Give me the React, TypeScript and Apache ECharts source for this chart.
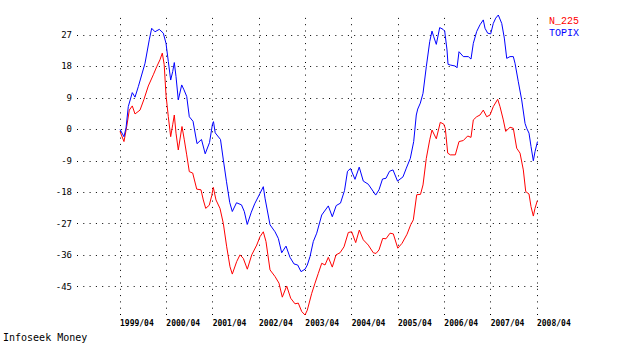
import React, { useEffect, useRef } from "react";
import * as echarts from "echarts";

// Decimal-year dates and % change values
const topixYears = [
  1999.25, 1999.336, 1999.38, 1999.429, 1999.515, 1999.574, 1999.645, 1999.79, 1999.882, 1999.934,
  2000.005, 2000.098, 2000.185, 2000.243, 2000.293, 2000.344, 2000.387, 2000.422, 2000.459, 2000.508,
  2000.582, 2000.631, 2000.69, 2000.746, 2000.826, 2000.912, 2001.009, 2001.089, 2001.182, 2001.247,
  2001.268, 2001.305, 2001.419, 2001.478, 2001.549, 2001.618, 2001.674, 2001.765, 2001.872, 2001.933,
  2001.996, 2002.084, 2002.157, 2002.272, 2002.343, 2002.38, 2002.488, 2002.596, 2002.667, 2002.74,
  2002.833, 2002.919, 2003.006, 2003.085, 2003.157, 2003.243, 2003.293, 2003.351, 2003.422, 2003.496,
  2003.604, 2003.746, 2003.832, 2003.917, 2004.009, 2004.096, 2004.16, 2004.225, 2004.322, 2004.413,
  2004.501, 2004.609, 2004.769, 2004.84, 2004.916, 2004.991, 2005.067, 2005.142, 2005.24, 2005.358,
  2005.43, 2005.516, 2005.589, 2005.645, 2005.676, 2005.732, 2005.79, 2005.861, 2005.935, 2005.984,
  2006.021, 2006.077, 2006.15, 2006.222, 2006.258, 2006.308, 2006.33, 2006.379, 2006.487, 2006.524,
  2006.567, 2006.66, 2006.768, 2006.826, 2006.876, 2006.949, 2007.02, 2007.091, 2007.128, 2007.186,
  2007.251, 2007.307, 2007.359, 2007.415, 2007.489, 2007.545, 2007.597, 2007.668, 2007.739, 2007.776,
  2007.847, 2007.92, 2007.992, 2008.028, 2008.078, 2008.121, 2008.171, 2008.207, 2008.261,
];
const topixValues = [
  0.0, -2.1, 0.4, 6.5, 10.5, 9.2, 12.2, 18.9, 25.6, 28.9,
  27.9, 28.6, 27.5, 24.6, 19.4, 14.1, 16.5, 19.1, 15.1, 8.4,
  12.7, 11.3, 9.4, 3.6, 2.3, -4.1, -2.9, -7.0, -3.8, 1.6,
  2.2, -1.0, -2.9, -8.5, -15.0, -20.9, -23.5, -21.0, -21.6, -23.5,
  -27.2, -23.7, -21.3, -18.3, -16.4, -19.7, -27.3, -29.3, -31.2, -35.3,
  -33.4, -36.6, -38.5, -38.8, -40.7, -40.0, -38.8, -36.4, -32.1, -29.7,
  -24.5, -21.9, -25.0, -21.8, -21.1, -17.5, -12.0, -11.2, -14.3, -10.8,
  -14.8, -15.7, -18.8, -17.3, -14.2, -14.0, -12.0, -11.6, -14.8, -13.6,
  -11.1, -8.3, -3.5, 4.1, 5.8, 7.5, 10.3, 17.9, 25.1, 28.1,
  26.5, 24.3, 29.1, 28.6, 28.1, 22.7, 18.6, 18.4, 18.1, 17.6,
  22.2, 20.8, 20.8, 20.1, 24.6, 28.0, 29.9, 31.3, 28.9, 27.5,
  27.3, 30.3, 31.8, 32.7, 30.3, 26.1, 20.3, 20.8, 20.8, 18.9,
  13.6, 8.4, 1.7, 0.3, -1.1, -4.9, -9.0, -6.4, -3.5,
];

const n225Years = [
  1999.25, 1999.336, 1999.395, 1999.451, 1999.515, 1999.574, 1999.682, 1999.768, 1999.861, 1999.969,
  2000.042, 2000.113, 2000.163, 2000.204, 2000.243, 2000.293, 2000.344, 2000.387, 2000.422, 2000.459,
  2000.508, 2000.588, 2000.638, 2000.69, 2000.746, 2000.819, 2000.906, 2000.998, 2001.048, 2001.1,
  2001.177, 2001.229, 2001.264, 2001.322, 2001.408, 2001.48, 2001.553, 2001.624, 2001.674, 2001.769,
  2001.84, 2001.911, 2001.998, 2002.093, 2002.201, 2002.272, 2002.343, 2002.401, 2002.488, 2002.596,
  2002.682, 2002.753, 2002.848, 2002.934, 2003.027, 2003.098, 2003.172, 2003.243, 2003.293, 2003.388,
  2003.459, 2003.53, 2003.604, 2003.675, 2003.746, 2003.832, 2003.912, 2003.999, 2004.085, 2004.178,
  2004.251, 2004.337, 2004.415, 2004.501, 2004.609, 2004.717, 2004.776, 2004.84, 2004.92, 2004.991,
  2005.078, 2005.149, 2005.246, 2005.337, 2005.445, 2005.524, 2005.581, 2005.654, 2005.736, 2005.79,
  2005.861, 2005.935, 2005.984, 2006.077, 2006.163, 2006.237, 2006.271, 2006.323, 2006.379, 2006.487,
  2006.567, 2006.66, 2006.755, 2006.826, 2006.876, 2006.949, 2007.02, 2007.091, 2007.165, 2007.236,
  2007.307, 2007.402, 2007.452, 2007.523, 2007.575, 2007.668, 2007.739, 2007.812, 2007.884, 2007.955,
  2008.007, 2008.078, 2008.121, 2008.171, 2008.207, 2008.257,
];
const n225Values = [
  -0.6, -3.5, 0.8, 5.5, 6.7, 4.4, 5.5, 8.6, 12.4, 15.6,
  17.9, 19.9, 21.8, 18.5, 9.8, 3.6, -2.1, 1.3, 4.1, -1.1,
  -5.9, 0.8, -3.0, -7.3, -12.1, -12.5, -17.1, -17.3, -20.2, -22.6,
  -21.7, -19.0, -16.6, -20.2, -22.6, -26.9, -33.6, -39.3, -41.4, -37.8,
  -35.9, -36.9, -40.0, -35.9, -33.1, -30.7, -29.3, -32.1, -40.2, -42.1,
  -44.0, -48.0, -44.8, -48.3, -49.9, -49.7, -52.1, -53.1, -51.7, -46.9,
  -44.0, -41.2, -38.3, -38.8, -36.6, -39.4, -35.9, -35.3, -33.6, -29.5,
  -29.3, -32.4, -28.8, -31.6, -33.1, -35.3, -35.5, -34.5, -31.2, -31.3,
  -29.7, -29.9, -34.0, -32.6, -30.0, -27.3, -25.9, -18.7, -18.6, -15.9,
  -8.3, -3.0, -0.2, -2.7, 2.0, 1.5, 0.3, -6.8, -7.3, -7.3,
  -3.5, -3.2, -1.9, -2.3, 2.7, 3.6, 4.1, 5.5, 3.6, 4.1,
  6.5, 8.6, 6.5, 2.7, -0.6, 0.6, 0.3, -5.4, -6.8, -11.6,
  -17.8, -18.5, -22.1, -24.8, -22.6, -20.4,
];

const yTicks = [27, 18, 9, 0, -9, -18, -27, -36, -45];
const xTickYears = [1999.25, 2000.25, 2001.25, 2002.25, 2003.25, 2004.25, 2005.25, 2006.25, 2007.25, 2008.25];
const xTickLabels = ["1999/04", "2000/04", "2001/04", "2002/04", "2003/04", "2004/04", "2005/04", "2006/04", "2007/04", "2008/04"];
const seriesNames = ["N_225", "TOPIX"];
const seriesColors = ["#ff0000", "#0000ff"];
const sourceText = "Infoseek Money";

const MONO = "'DejaVu Sans Mono', 'Liberation Mono', monospace";
const LEGEND_FONT = "'Liberation Mono', 'DejaVu Sans Mono', monospace";

export default function App() {
  const ref = useRef<HTMLDivElement>(null);

  useEffect(() => {
    if (!ref.current) return;
    const chart = echarts.init(ref.current, undefined, { renderer: "svg" });
    const dotted = { color: "#000", width: 1, type: [1, 5.3] as any, opacity: 1 };
    const gridLines = [
      ...yTicks.map((v) => ({ yAxis: v })),
      ...xTickYears.map((v) => ({ xAxis: v })),
    ];
    const option: any = {
      animation: false,
      backgroundColor: "#ffffff",
      grid: { left: 77, right: 90, top: 15, bottom: 44, containLabel: false },
      xAxis: {
        type: "value",
        min: 1998.322,
        max: 2008.315,
        axisLine: { show: false },
        axisTick: { show: false },
        splitLine: { show: false },
        axisLabel: {
          customValues: xTickYears,
          formatter: (v: number) => {
            const i = xTickYears.findIndex((t) => Math.abs(t - v) < 1e-6);
            return i >= 0 ? xTickLabels[i] : "";
          },
          align: "left",
          margin: 4,
          color: "#000",
          fontFamily: MONO,
          fontSize: 8,
          fontWeight: "bold",
        },
      },
      yAxis: {
        type: "value",
        min: -53.1,
        max: 32.7,
        axisLine: { show: false },
        axisTick: { show: false },
        splitLine: { show: false },
        axisLabel: {
          customValues: yTicks,
          margin: 5,
          color: "#000",
          fontFamily: MONO,
          fontSize: 9,
        },
      },
      series: [
        {
          name: seriesNames[0],
          type: "line",
          data: n225Years.map((x, i) => [x, n225Values[i]]),
          showSymbol: false,
          symbol: "none",
          lineStyle: { color: seriesColors[0], width: 1 },
          itemStyle: { color: seriesColors[0] },
          z: 3,
          markLine: {
            silent: true,
            symbol: ["none", "none"],
            label: { show: false },
            lineStyle: dotted,
            emphasis: { disabled: true },
            data: gridLines,
            z: 1,
          },
        },
        {
          name: seriesNames[1],
          type: "line",
          data: topixYears.map((x, i) => [x, topixValues[i]]),
          showSymbol: false,
          symbol: "none",
          lineStyle: { color: seriesColors[1], width: 1 },
          itemStyle: { color: seriesColors[1] },
          z: 4,
        },
      ],
      graphic: [
        {
          type: "text",
          left: 549,
          top: 16.5,
          z: 10,
          style: { text: seriesNames[0], fill: seriesColors[0], font: `10px ${LEGEND_FONT}` },
        },
        {
          type: "text",
          left: 549,
          top: 28.5,
          z: 9,
          style: { text: seriesNames[1], fill: seriesColors[1], font: `10px ${LEGEND_FONT}` },
        },
        {
          type: "text",
          left: 3,
          top: 332,
          style: { text: sourceText, fill: "#000", font: `10px ${MONO}` },
        },
      ],
    };
    chart.setOption(option);
    return () => chart.dispose();
  }, []);

  return (
    <div
      ref={ref}
      style={{ position: "fixed", left: 0, top: 0, width: 630, height: 359, background: "#fff" }}
    />
  );
}
